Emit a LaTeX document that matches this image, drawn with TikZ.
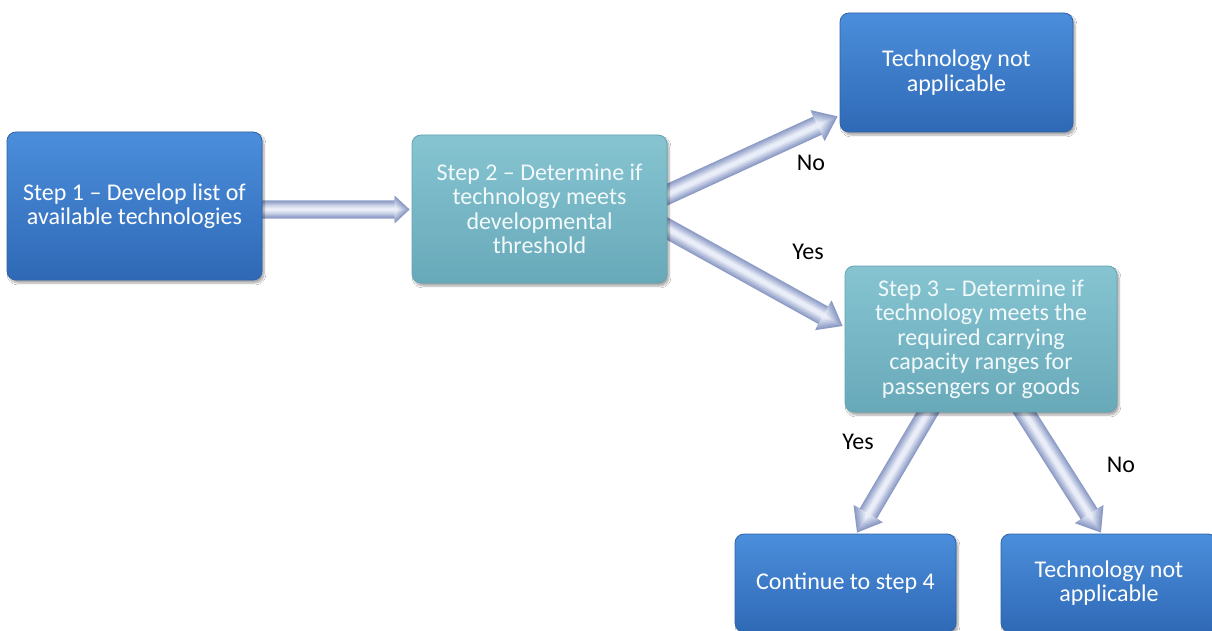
\documentclass[tikz,border=0pt]{standalone}
\usepackage{fontspec}
\setmainfont{Carlito}
\usetikzlibrary{calc,shadows.blur,backgrounds}
\definecolor{bluetop}{HTML}{4B8EDB}
\definecolor{bluebot}{HTML}{2F69B6}
\definecolor{blueedge}{HTML}{2E62A6}
\definecolor{tealtop}{HTML}{86C4D1}
\definecolor{tealbot}{HTML}{68A9B9}
\definecolor{tealedge}{HTML}{64A4B4}
\definecolor{tealtext}{HTML}{F2F9FB}
\definecolor{arrE}{HTML}{8C9BC5}
\definecolor{arrC}{HTML}{E8EDF8}
\tikzset{
 flowbox/.style={rounded corners=9pt, line width=0.8pt, align=center, inner sep=0pt,
   font=\fontsize{24}{24.5}\selectfont,
   blur shadow={shadow xshift=2pt, shadow yshift=-3pt, shadow blur steps=6, shadow opacity=35}},
 bluebox/.style={flowbox, draw=blueedge, top color=bluetop, bottom color=bluebot, text=white},
 tealbox/.style={flowbox, draw=tealedge, top color=tealtop, bottom color=tealbot, text=tealtext},
 lbl/.style={font=\fontsize{24}{24.5}\selectfont, text=black, inner sep=0pt},
 barrow len/.estore in=\barrowlen, barrow len=100,
 barrow w/.estore in=\barroww, barrow w=10,
 barrow hw/.estore in=\barrowhw, barrow hw=17,
 barrow hl/.estore in=\barrowhl, barrow hl=22,
 pics/barrow/.style={code={
   \foreach \kk in {0,...,6}{
     \pgfmathsetmacro\fac{1-0.13*\kk}
     \pgfmathsetmacro\pct{100*\kk/6}
     \pgfmathsetmacro\tipx{\barrowlen-(1-\fac)*\barrowhl*0.9}
     \pgfmathsetmacro\hbx{\barrowlen-\barrowhl}
     \pgfmathsetmacro\sw{\barroww*\fac}
     \pgfmathsetmacro\hw{\barrowhw*\fac}
     \fill[arrC!\pct!arrE] (0,-\sw) -- (\hbx,-\sw) -- (\hbx,-\hw) -- (\tipx,0)
        -- (\hbx,\hw) -- (\hbx,\sw) -- (0,\sw) -- cycle;
   }
 }},
}
\newcommand\blockarrow[3][]{%
 \path let \p1=(#2), \p2=(#3), \n1={atan2(\y2-\y1,\x2-\x1)},
   \n2={veclen(\x2-\x1,\y2-\y1)} in (\p1) pic[rotate=\n1, barrow len=\n2, #1]{barrow};}
\pgfdeclarelayer{background}
\pgfsetlayers{background,main}
\begin{document}
\begin{tikzpicture}[x=1pt,y=-1pt]
\useasboundingbox (0,0) rectangle (1212,631);
\node[bluebox, minimum width=255pt, minimum height=148pt] (b1) at (134.5,206)
  {Step 1 – Develop list of\\available technologies};
\node[tealbox, minimum width=255pt, minimum height=148pt] (b2) at (539.5,209)
  {Step 2 – Determine if\\technology meets\\developmental\\threshold};
\node[bluebox, minimum width=233pt, minimum height=119pt] (b3) at (956.5,72.5)
  {Technology not\\applicable};
\node[tealbox, minimum width=272pt, minimum height=146pt] (s3) at (981,339)
  {Step 3 – Determine if\\technology meets the\\required carrying\\capacity ranges for\\passengers or goods};
\node[bluebox, minimum width=221pt, minimum height=98pt] (c4) at (845.5,583)
  {Continue to step 4};
\node[bluebox, minimum width=216pt, minimum height=98pt] (r4) at (1109,583)
  {Technology not\\applicable};
\node[lbl] (l1) at (811,163) {No};
\node[lbl] (l2) at (808,252) {Yes};
\node[lbl] (l3) at (858,442) {Yes};
\node[lbl] (l4) at (1121,465) {No};
\coordinate (a1s) at ($(b1.east)+(-6,3.5)$);
\coordinate (a1e) at ($(b2.west)+(-2,0.5)$);
\coordinate (a2s) at ($(b2.east)+(-12,-9)$);
\coordinate (a2e) at ($(b3.south west)+(-2,-16)$);
\coordinate (a3s) at ($(b2.east)+(-12,13)$);
\coordinate (a3e) at ($(s3.west)+(-2,-13)$);
\coordinate (a4s) at ($(s3.south)+(-49,-7)$);
\coordinate (a4e) at ($(c4.north)+(11.5,-1)$);
\coordinate (a5s) at ($(s3.south)+(39,-7)$);
\coordinate (a5e) at ($(r4.north)+(-8,-1)$);
\begin{pgfonlayer}{background}
\fill[white] (0,0) rectangle (1212,631);
\blockarrow[barrow w=9, barrow hw=14, barrow hl=15]{a1s}{a1e}
\blockarrow{a2s}{a2e}
\blockarrow{a3s}{a3e}
\blockarrow{a4s}{a4e}
\blockarrow{a5s}{a5e}
\end{pgfonlayer}
\end{tikzpicture}
\end{document}
